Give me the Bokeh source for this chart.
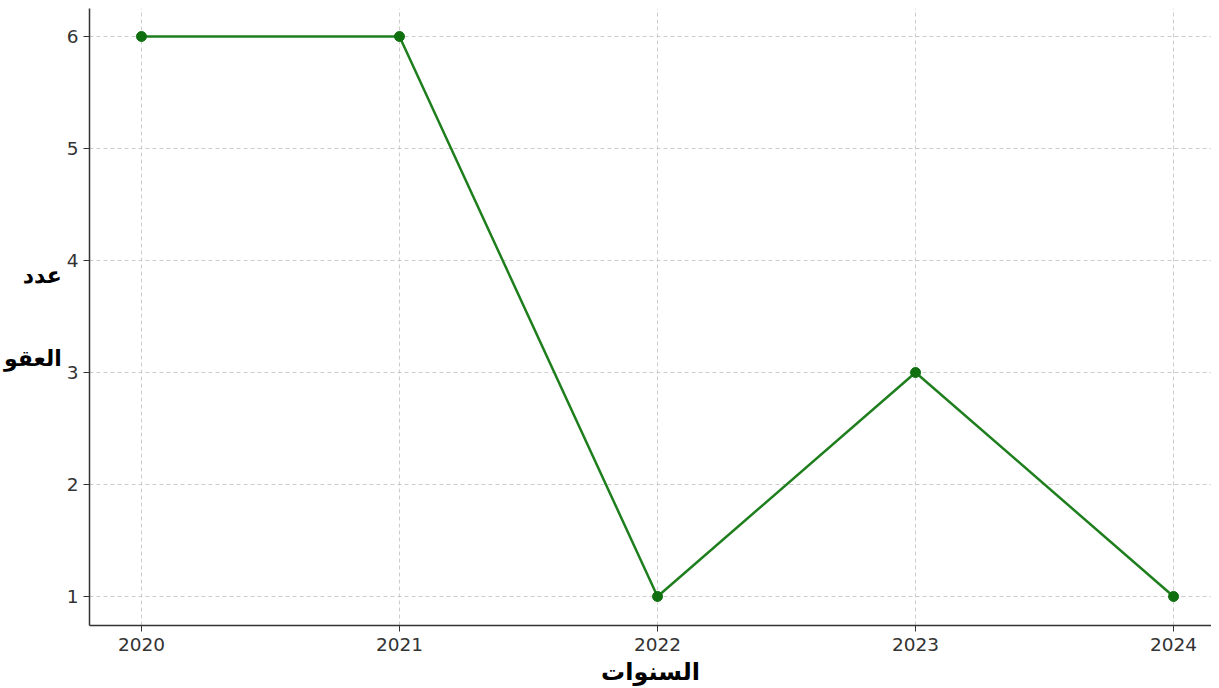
from bokeh.plotting import figure
from bokeh.models import Range1d, FixedTicker
from bokeh.embed import file_html
from bokeh.resources import INLINE

years = [2020, 2021, 2022, 2023, 2024]
counts = [6, 6, 1, 3, 1]
x_label = "السنوات"
y_label_lines = ["عدد", "العقو"]

p = figure(width=1211, height=688, output_backend="svg", toolbar_location=None,
           x_range=Range1d(2019.7986, 2024.147), y_range=Range1d(0.741, 6.25),
           min_border_left=88, min_border_right=0, min_border_top=8, min_border_bottom=10)
p.outline_line_color = None
p.background_fill_color = "white"

green = "#1f7f1f"
p.line(years, counts, line_color=green, line_width=2.5)
p.scatter(years, counts, size=10, fill_color="#107010", line_color="#107010")

for ax in (p.xaxis[0], p.yaxis[0]):
    ax.major_label_text_font = "DejaVu Sans"
    ax.major_label_text_font_size = "18.5px"
    ax.major_label_text_color = "#333333"
    ax.axis_line_color = "#333333"
    ax.axis_line_width = 1.5
    ax.major_tick_line_color = "#333333"
    ax.major_tick_out = 6
    ax.major_tick_in = 0
    ax.minor_tick_line_color = None
    ax.axis_label_text_font = "DejaVu Sans"
    ax.axis_label_text_font_style = "bold"
    ax.axis_label_text_color = "black"

p.xaxis.ticker = FixedTicker(ticks=years)
p.yaxis.ticker = FixedTicker(ticks=[1, 2, 3, 4, 5, 6])
p.xaxis.major_label_standoff = 6
p.yaxis.major_label_standoff = 5

p.xaxis.axis_label = x_label
p.xaxis.axis_label_text_font_size = "24px"
p.xaxis.axis_label_standoff = 4
p.yaxis.axis_label = "\n".join(y_label_lines)
p.yaxis.axis_label_text_font_size = "22px"
p.yaxis.axis_label_orientation = "horizontal"
p.yaxis.axis_label_text_line_height = 3.3
p.yaxis.axis_label_standoff = 2

p.xgrid.grid_line_color = "#cccccc"
p.ygrid.grid_line_color = "#cccccc"
p.xgrid.grid_line_dash = "4 3"
p.ygrid.grid_line_dash = "4 3"

open("out.html", "w").write(file_html(p, INLINE))
